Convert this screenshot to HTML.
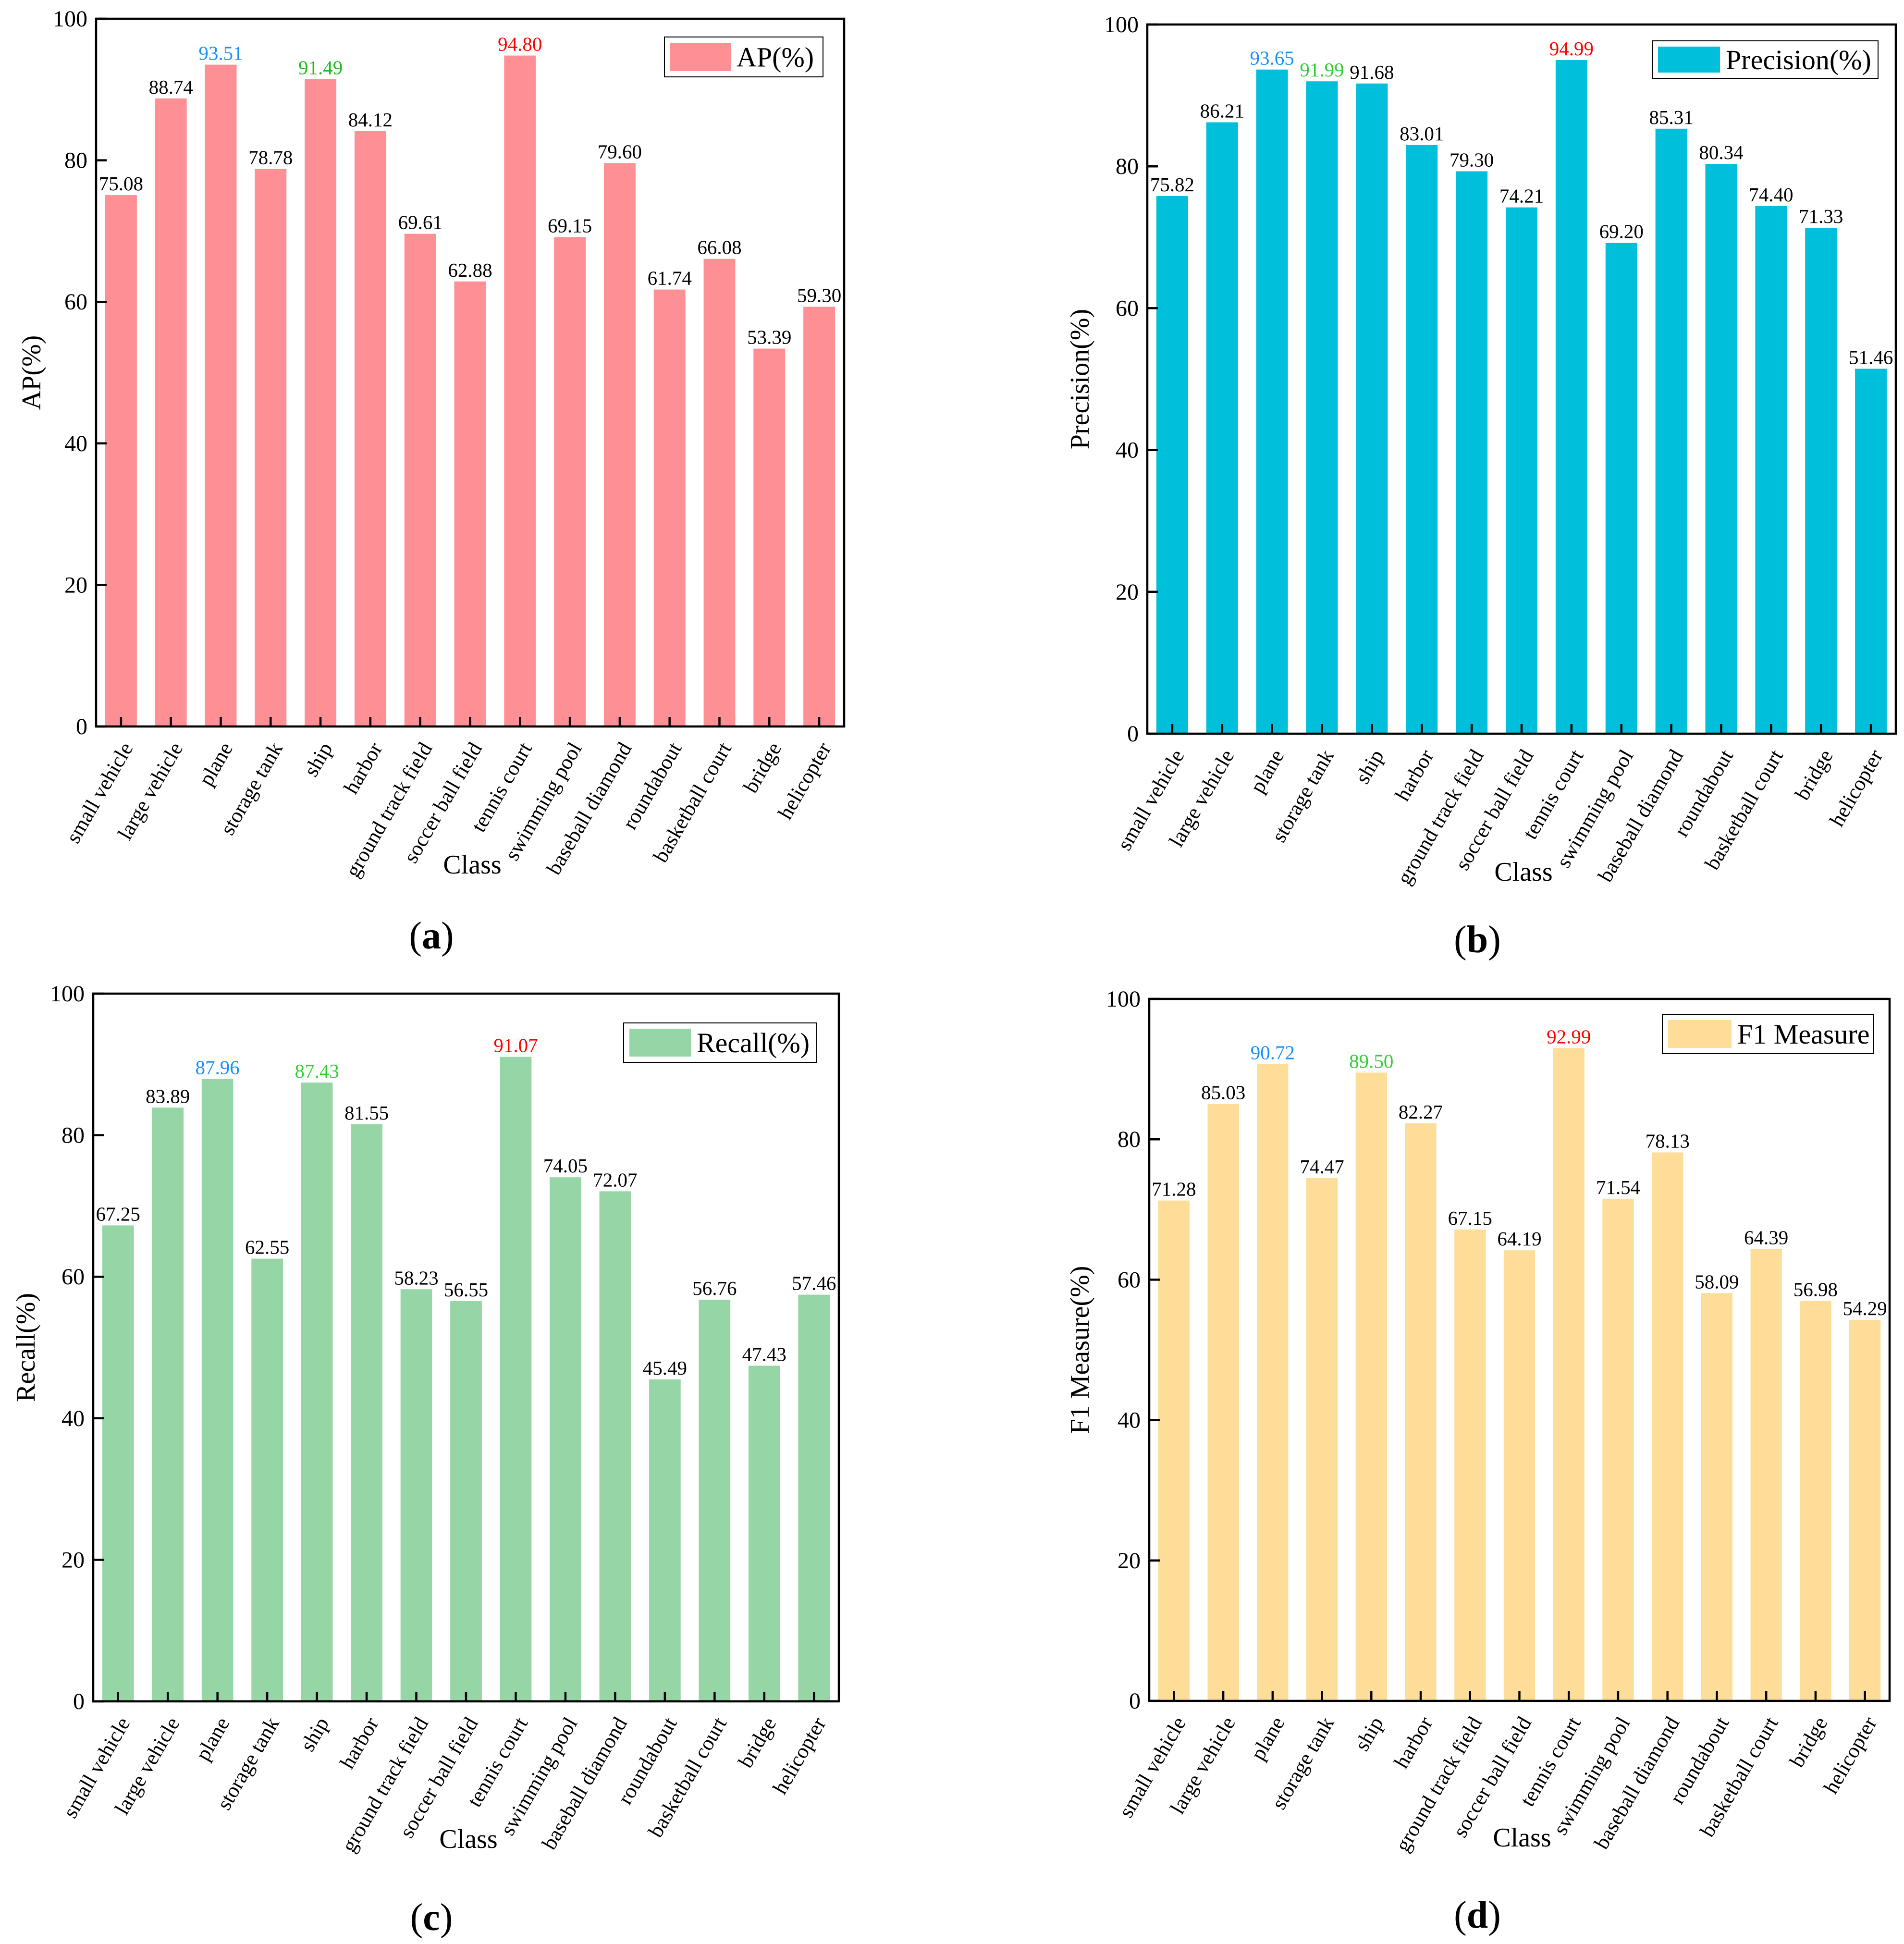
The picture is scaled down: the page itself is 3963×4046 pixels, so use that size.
<!DOCTYPE html>
<html><head><meta charset="utf-8">
<style>
html,body{margin:0;padding:0;background:#fff;}
svg{display:block;font-family:"Liberation Serif","Times New Roman",serif;}
</style></head>
<body>
<svg id="fig" width="3963" height="4046" viewBox="0 0 3963 4046" xmlns="http://www.w3.org/2000/svg"></svg>
<script>
const categories = ["small vehicle","large vehicle","plane","storage tank","ship","harbor","ground track field","soccer ball field","tennis court","swimming pool","baseball diamond","roundabout","basketball court","bridge","helicopter"];
const apValues = [75.08,88.74,93.51,78.78,91.49,84.12,69.61,62.88,94.80,69.15,79.60,61.74,66.08,53.39,59.30];
const precisionValues = [75.82,86.21,93.65,91.99,91.68,83.01,79.30,74.21,94.99,69.20,85.31,80.34,74.40,71.33,51.46];
const recallValues = [67.25,83.89,87.96,62.55,87.43,81.55,58.23,56.55,91.07,74.05,72.07,45.49,56.76,47.43,57.46];
const f1Values = [71.28,85.03,90.72,74.47,89.50,82.27,67.15,64.19,92.99,71.54,78.13,58.09,64.39,56.98,54.29];
const yTicks = [0,20,40,60,80,100];
const apHighlight = {2:"#1a8ff5",4:"#22bb22",8:"#ff0000"};
const precisionHighlight = {2:"#1a8ff5",3:"#33cc33",8:"#ff0000"};
const recallHighlight = {2:"#1a8ff5",4:"#33cc33",8:"#ff0000"};
const f1Highlight = {2:"#1a8ff5",4:"#33cc33",8:"#ff0000"};

const NS = "http://www.w3.org/2000/svg";
const svg = document.getElementById('fig');
function mk(tag, attrs, parent){
  const e = document.createElementNS(NS, tag);
  for (const k in attrs) e.setAttribute(k, attrs[k]);
  (parent||svg).appendChild(e);
  return e;
}

const panels = [
  {key:"ap", values:apValues, hl:apHighlight, color:"#fe9095", L:200, R:1757, T:39, B:1512, ytitle:"AP(%)", ytx:66, legend:{x:1383,y:77,w:330,h:83,sw:126,label:"AP(%)"}, xtitle:[983,1818], plabel:[898,1974], name:"a"},
  {key:"precision", values:precisionValues, hl:precisionHighlight, color:"#00bfda", L:2388, R:3946, T:51, B:1527, ytitle:"Precision(%)", ytx:2248, legend:{x:3439,y:85,w:470,h:78,sw:129,label:"Precision(%)"}, xtitle:[3171,1833], plabel:[3075,1982], name:"b"},
  {key:"recall", values:recallValues, hl:recallHighlight, color:"#95d5a6", L:194, R:1746, T:2068, B:3541, ytitle:"Recall(%)", ytx:54, legend:{x:1298,y:2129,w:402,h:82,sw:128,label:"Recall(%)"}, xtitle:[975,3846], plabel:[898,4017], name:"c"},
  {key:"f1", values:f1Values, hl:f1Highlight, color:"#fddd98", L:2392, R:3933, T:2079, B:3540, ytitle:"F1 Measure(%)", ytx:2248, legend:{x:3460,y:2111,w:440,h:82,sw:132,label:"F1 Measure"}, xtitle:[3168,3843], plabel:[3075,4012], name:"d"}
];

panels.forEach(p => {
  const g = mk('g', {});
  
  
  const n = categories.length;
  const band = (p.R - p.L) / n;
  const bw = band * 0.635;
  const xc = i => p.L + band * (i + 0.5);
  const y = v => p.B - (v / 100) * (p.B - p.T);

  p.values.forEach((v, i) => {
    const r = mk('rect', {x: xc(i) - bw/2, y: y(v), width: bw, height: p.B - y(v), fill: p.color}, g);
    
    
    const t = mk('text', {x: xc(i), y: y(v) - 10, 'text-anchor':'middle', 'font-size': 41, fill: p.hl[i] || '#000'}, g);
    t.textContent = v.toFixed(2);
    
    
  });

  const fr = mk('rect', {x:p.L, y:p.T, width:p.R-p.L, height:p.B-p.T, fill:'none', stroke:'#000', 'stroke-width':4.5}, g);
  
  

  yTicks.forEach(tv => {
    const yy = y(tv);
    const ln = mk('line', {x1:p.L, x2:p.L+22, y1:yy, y2:yy, stroke:'#000', 'stroke-width':4.5}, g);
    
    
    const t = mk('text', {x:p.L-18, y:yy+16, 'text-anchor':'end', 'font-size':48}, g);
    t.textContent = tv;
    
    
  });

  categories.forEach((c, i) => {
    const ln = mk('line', {x1:xc(i), x2:xc(i), y1:p.B, y2:p.B-20, stroke:'#000', 'stroke-width':4.5}, g);
    
    
    const lx = xc(i) + 26, ly = p.B + 44;
    const t = mk('text', {x:lx, y:ly, 'text-anchor':'end', 'font-size':44, transform:`rotate(-60 ${lx} ${ly})`}, g);
    t.textContent = c;
    
    
  });

  const cy = (p.T + p.B) / 2;
  const yt = mk('text', {x:p.ytx+18, y:cy, 'text-anchor':'middle', 'font-size':56, transform:`rotate(-90 ${p.ytx+18} ${cy})`}, g);
  yt.textContent = p.ytitle;
  
  

  const xt = mk('text', {x:p.xtitle[0], y:p.xtitle[1], 'text-anchor':'middle', 'font-size':56}, g);
  xt.textContent = 'Class';
  
  

  const lg = mk('g', {}, g);
  
  
  const L = p.legend;
  mk('rect', {x:L.x, y:L.y, width:L.w, height:L.h, fill:'#fff', stroke:'#000', 'stroke-width':2}, lg);
  const sw = mk('rect', {x:L.x+12, y:L.y+12, width:L.sw, height:L.h-24, fill:p.color}, lg);
  
  
  const lt = mk('text', {x:L.x+L.sw+24, y:L.y+L.h/2+20, 'font-size':58}, lg);
  lt.textContent = L.label;
  
  

  const pl = mk('text', {x:p.plabel[0], y:p.plabel[1], 'text-anchor':'middle', 'font-size':80}, g);
  
  
  const s1 = mk('tspan', {}, pl); s1.textContent = '(';
  const s2 = mk('tspan', {'font-weight':'bold'}, pl); s2.textContent = p.name;
  const s3 = mk('tspan', {}, pl); s3.textContent = ')';
});
</script>
</body></html>
